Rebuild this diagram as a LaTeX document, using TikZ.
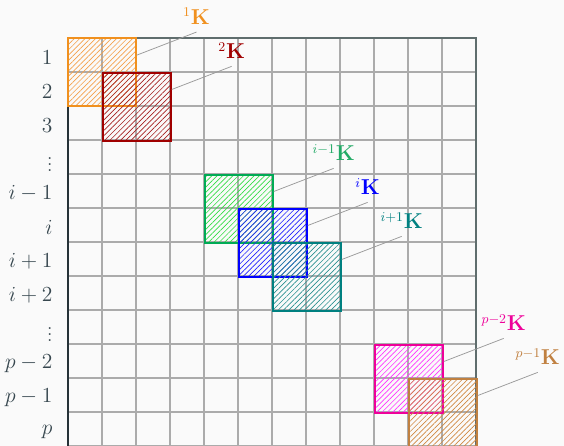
\documentclass[tikz,border=0pt]{standalone}
\usepackage{tikz}
\usetikzlibrary{patterns.meta, positioning, calc}

\definecolor{paper}{HTML}{FAFAFA}
\definecolor{gridgray}{HTML}{ABABAB}
\definecolor{slate}{HTML}{37474F}
\definecolor{frametop}{HTML}{5F6D6D}
\definecolor{frameleft}{HTML}{263238}
\definecolor{leadgray}{HTML}{9A9A9A}
% colori dei blocchi (bordo / tratteggio / etichetta)
\definecolor{kA}{HTML}{F0901E}\definecolor{kAh}{HTML}{F5A04A}
\definecolor{kB}{HTML}{A00000}\definecolor{kBh}{HTML}{A52020}
\definecolor{kC}{HTML}{00AA55}\definecolor{kCh}{HTML}{33DD44}\definecolor{kCl}{HTML}{22AA66}
\definecolor{kD}{HTML}{0000FF}\definecolor{kDh}{HTML}{2020FF}
\definecolor{kE}{HTML}{008080}\definecolor{kEh}{HTML}{2A9090}
\definecolor{kF}{HTML}{EE0099}\definecolor{kFh}{HTML}{FF33FF}
\definecolor{kG}{HTML}{C08040}\definecolor{kGh}{HTML}{D08840}

\begin{document}
\begin{tikzpicture}[scale=0.8, font=\fontsize{13.5}{16}\selectfont,
  blk/.style={minimum size=1.6cm, inner sep=0pt, anchor=north west,
    line width=1.2pt, pattern={Lines[angle=45, distance=2.5pt, line width=0.45pt]}},
  lead/.style={leadgray, line width=0.5pt},
  rowlbl/.style={left, text=slate, font=\fontsize{13.3}{16}\selectfont}]

  % --- Sfondo e ritaglio ---
  \clip (-2,1.118) rectangle (14.588,-11.99);
  \fill[paper] (-2,1.118) rectangle (14.588,-11.99);

  % --- Etichette di riga ---
  \foreach \r/\t in {1/1, 2/2, 3/3, 4/\vdots, 5/i-1, 6/i, 7/i+1, 8/i+2,
                     9/\vdots, 10/p-2, 11/p-1, 12/p}{
    \node[rowlbl] (r\r) at (-0.3,{-(\r-0.42)}) {$\t$};
  }

  % --- Griglia ---
  \draw[gridgray, line width=0.8pt, step=1] (0,-12.5) grid (12,0);

  % --- Cornice ---
  \draw[frametop, line width=1.6pt] (0,0) -- (12,0) -- (12,-12.5);
  \draw[frameleft, line width=1.4pt] (0,0) -- (0,-12.5);

  % 1K — righe 1-2
  \node[blk, draw=kA, pattern color=kAh] (k1) at (0,0) {};
  \coordinate (s1) at ($(k1.north east)!.25!(k1.south east)$);
  \coordinate (t1) at ($(s1)+(1.76,0.68)$);
  \node[above=1.5pt of t1, text=kA] (l1) {${}^{1}\mathbf{K}$};
  \draw[lead] (s1) -- (t1);

  % 2K — righe 2-3
  \node[blk, draw=kB, pattern color=kBh] (k2) at (1,-1) {};
  \coordinate (s2) at ($(k2.north east)!.25!(k2.south east)$);
  \coordinate (t2) at ($(s2)+(1.76,0.68)$);
  \node[above=1.5pt of t2, text=kB] (l2) {${}^{2}\mathbf{K}$};
  \draw[lead] (s2) -- (t2);

  % (i-1)K — righe i-1, i
  \node[blk, draw=kC, pattern color=kCh] (k3) at (4,-4) {};
  \coordinate (s3) at ($(k3.north east)!.25!(k3.south east)$);
  \coordinate (t3) at ($(s3)+(1.76,0.68)$);
  \node[above=1.5pt of t3, text=kCl] (l3) {${}^{i-1}\mathbf{K}$};
  \draw[lead] (s3) -- (t3);

  % iK — righe i, i+1
  \node[blk, draw=kD, pattern color=kDh] (k4) at (5,-5) {};
  \coordinate (s4) at ($(k4.north east)!.25!(k4.south east)$);
  \coordinate (t4) at ($(s4)+(1.76,0.68)$);
  \node[above=1.5pt of t4, text=kD] (l4) {${}^{i}\mathbf{K}$};
  \draw[lead] (s4) -- (t4);

  % (i+1)K — righe i+1, i+2
  \node[blk, draw=kE, pattern color=kEh] (k5) at (6,-6) {};
  \coordinate (s5) at ($(k5.north east)!.25!(k5.south east)$);
  \coordinate (t5) at ($(s5)+(1.76,0.68)$);
  \node[above=1.5pt of t5, text=kE] (l5) {${}^{i+1}\mathbf{K}$};
  \draw[lead] (s5) -- (t5);

  % (p-2)K — righe p-2, p-1
  \node[blk, draw=kF, pattern color=kFh] (k6) at (9,-9) {};
  \coordinate (s6) at ($(k6.north east)!.25!(k6.south east)$);
  \coordinate (t6) at ($(s6)+(1.76,0.68)$);
  \node[above=1.5pt of t6, text=kF] (l6) {${}^{p-2}\mathbf{K}$};
  \draw[lead] (s6) -- (t6);

  % (p-1)K — righe p-1, p
  \node[blk, draw=kG, pattern color=kGh] (k7) at (10,-10) {};
  \coordinate (s7) at ($(k7.north east)!.25!(k7.south east)$);
  \coordinate (t7) at ($(s7)+(1.76,0.68)$);
  \node[above=1.5pt of t7, text=kG] (l7) {${}^{p-1}\mathbf{K}$};
  \draw[lead] (s7) -- (t7);

\end{tikzpicture}
\end{document}
